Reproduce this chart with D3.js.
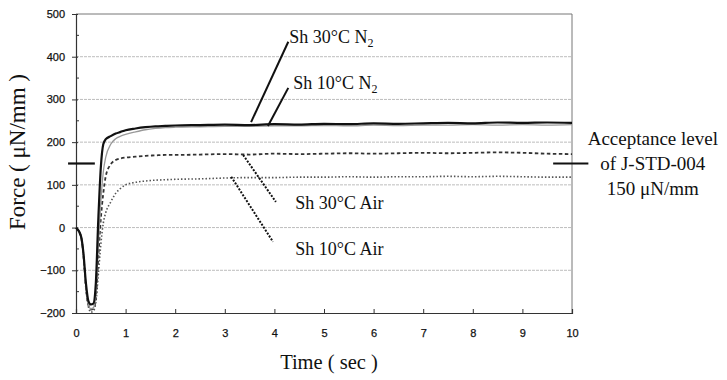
<!DOCTYPE html>
<html><head><meta charset="utf-8">
<script src="https://cdn.jsdelivr.net/npm/d3@7"></script>
<style>body{margin:0;background:#fff}svg{display:block}</style>
</head><body><svg id="c" width="727" height="380"></svg>
<script>
const time = [0,0.1,0.15,0.2,0.25,0.3,0.35,0.4,0.45,0.5,0.55,0.6,0.7,0.8,0.9,1.0,1.2,1.4,1.6,1.8,2.0,2.5,3,3.5,4,4.5,5,5.5,6,6.5,7,7.5,8,8.5,9,9.5,10];
const sh30N2 = [0,-20,-60,-130,-172,-180,-178,-130,20,140,195,207,214,220,224,228,232,235,237,238,239,240,241,240,242,241,243,242,244,243,244,245,244,246,245,246,245];
const sh10N2 = [0,-20,-65,-140,-180,-190,-188,-155,-40,60,130,165,195,208,214,218,224,229,232,234,235,236,237,237,238,238,239,238,240,239,240,240,241,240,241,240,241];
const sh30Air = [0,-20,-65,-140,-182,-192,-190,-165,-70,20,80,120,148,158,162,164,166,168,169,170,170,171,172,171,173,172,173,174,173,174,175,174,175,176,175,173,172];
const sh10Air = [0,-20,-65,-140,-185,-198,-195,-175,-110,-40,10,35,60,80,92,100,106,109,111,112,113,114,116,117,117,118,118,119,118,119,119,120,119,120,119,118,118];
const xTicks = [0,1,2,3,4,5,6,7,8,9,10];
const yTicks = [-200,-100,0,100,200,300,400,500];
const acceptance = 150;
const acceptanceText = ["Acceptance level","of J-STD-004","150 \u03bcN/mm"];

const W = 727, H = 380;
const m = {l:76, t:14, r:155, b:67};
const svg = d3.select("#c");
const x = d3.scaleLinear().domain([0,10]).range([m.l, W-m.r]);
const y = d3.scaleLinear().domain([-200,500]).range([H-m.b, m.t]);
const serif = "'Liberation Serif','Times New Roman',serif";
const sans = "'Liberation Sans',Arial,sans-serif";

// gridlines
svg.append("g").selectAll("line").data(yTicks.filter(v=>v>-200 && v<500)).join("line")
  .attr("x1",x(0)).attr("x2",x(10)).attr("y1",d=>y(d)).attr("y2",d=>y(d))
  .attr("stroke","#bdbdbd").attr("stroke-width",1).attr("stroke-dasharray","3,1");
// border top/right
svg.append("path").attr("d",`M${x(0)},${y(500)}H${x(10)}V${y(-200)}`)
  .attr("fill","none").attr("stroke","#777").attr("stroke-width",1);

// axes
const yAxis = d3.axisLeft(y).tickValues(yTicks).tickSize(4).tickPadding(7);
const gy = svg.append("g").attr("transform",`translate(${x(0)},0)`).call(yAxis);
gy.selectAll(".tick line").attr("x2",-4).attr("x1",2);
const yMinor = d3.range(-150,500,100);
svg.append("g").selectAll("line").data(yMinor).join("line")
  .attr("x1",x(0)).attr("x2",x(0)+3).attr("y1",d=>y(d)).attr("y2",d=>y(d)).attr("stroke","#333");
const xAxis = d3.axisBottom(x).tickValues(xTicks).tickSize(-4).tickPadding(16);
const gx = svg.append("g").attr("transform",`translate(0,${y(-200)})`).call(xAxis);
[gx,gy].forEach(g=>{
  g.select(".domain").attr("stroke","#333").attr("stroke-width",1.2);
  g.selectAll(".tick line").attr("stroke","#333");
  g.selectAll("text").attr("font-family",sans).attr("font-size",11).attr("fill","#111")
    .attr("stroke","#111").attr("stroke-width",0.25);
});

// lines
const line = d3.line().x((d,i)=>x(time[i])).y(d=>y(d)).curve(d3.curveMonotoneX);
const series = [
  {v:sh10Air, c:"#555", w:1.6, dash:"1.5,2"},
  {v:sh30Air, c:"#333", w:1.8, dash:"3.5,2.5"},
  {v:sh10N2, c:"#999", w:1.3, dash:null},
  {v:sh30N2, c:"#111", w:2.2, dash:null}
];
series.forEach(s=>{
  svg.append("path").datum(s.v).attr("d",line).attr("fill","none")
    .attr("stroke",s.c).attr("stroke-width",s.w).attr("stroke-dasharray",s.dash);
});

// acceptance marks
const accSegs = [[-0.16,0.38],[9.62,10.33]];
svg.append("g").selectAll("line").data(accSegs).join("line")
  .attr("x1",d=>x(d[0])).attr("x2",d=>x(d[1])).attr("y1",y(acceptance)).attr("y2",y(acceptance))
  .attr("stroke","#111").attr("stroke-width",2.2);
svg.append("g").selectAll("text").data(acceptanceText).join("text")
  .attr("x",x(11.63)).attr("y",(d,i)=>y(acceptance)+(i-1)*25+6.5)
  .attr("text-anchor","middle").attr("font-family",serif).attr("font-size",19).attr("fill","#111")
  .text(d=>d);

// leaders
const leaders = [
  {x1:3.53,y1:247,x2:4.28,y2:435,dash:null},
  {x1:3.87,y1:238,x2:4.28,y2:327,dash:null},
  {x1:3.37,y1:170,x2:4.03,y2:60,dash:"2,1.5"},
  {x1:3.13,y1:119,x2:3.97,y2:-33,dash:"2,1.5"}
];
svg.append("g").selectAll("line").data(leaders).join("line")
  .attr("x1",d=>x(d.x1)).attr("y1",d=>y(d.y1)).attr("x2",d=>x(d.x2)).attr("y2",d=>y(d.y2))
  .attr("stroke","#111").attr("stroke-width",2).attr("stroke-dasharray",d=>d.dash);

// labels
const labels = [
  {t:4.3,v:432,txt:"Sh 30\u00b0C N",sub:"2"},
  {t:4.38,v:324,txt:"Sh 10\u00b0C N",sub:"2"},
  {t:4.42,v:43,txt:"Sh 30\u00b0C Air",sub:null},
  {t:4.42,v:-64,txt:"Sh 10\u00b0C Air",sub:null}
];
labels.forEach(l=>{
  const tx = svg.append("text").attr("x",x(l.t)).attr("y",y(l.v))
    .attr("font-family",serif).attr("font-size",18).attr("fill","#111").text(l.txt);
  if(l.sub) tx.append("tspan").attr("font-size",12).attr("dy",4).text(l.sub);
});

// axis titles
svg.append("text").attr("x",329).attr("y",369).attr("text-anchor","middle")
  .attr("font-family",serif).attr("font-size",20.5).attr("fill","#111").text("Time ( sec )");
svg.append("text").attr("transform",`translate(25,152) rotate(-90)`)
  .attr("text-anchor","middle").attr("font-family",serif).attr("font-size",23).attr("fill","#111")
  .text("Force ( \u03bcN/mm )");
</script></body></html>
